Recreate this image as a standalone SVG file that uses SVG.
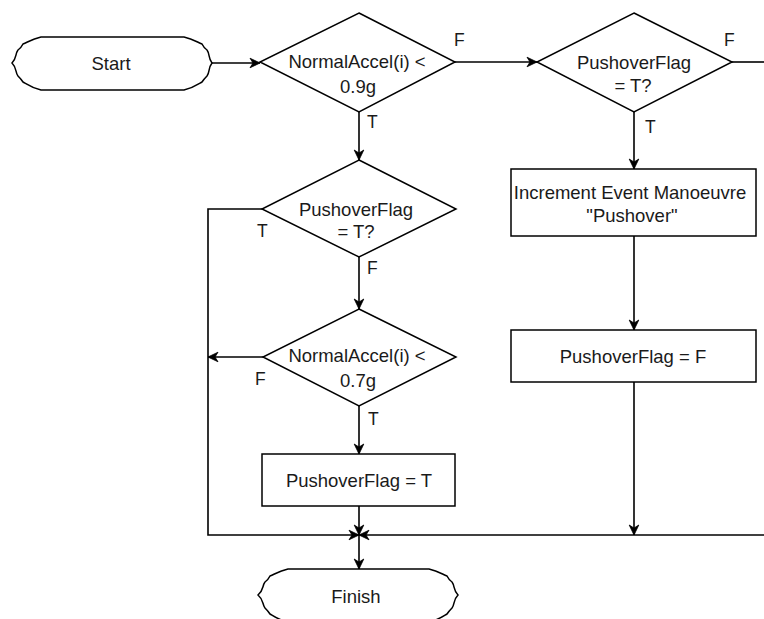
<svg xmlns="http://www.w3.org/2000/svg" width="764" height="619" viewBox="0 0 764 619">
<defs>
<marker id="arr" markerUnits="userSpaceOnUse" markerWidth="14" markerHeight="12" viewBox="-12 -6 14 12" refX="0" refY="0" orient="auto">
<path d="M0,0 L-10,-4.8 L-7,0 L-10,4.8 Z" fill="#000" stroke="#000" stroke-width="0.8" stroke-linejoin="miter"/>
</marker>
<style>
.s{fill:#fff;stroke:#000;stroke-width:1.5}
.c{fill:none;stroke:#000;stroke-width:1.6}
.t{font-family:"Liberation Sans",Arial,sans-serif;font-size:18.5px;fill:#1a1a1a;text-anchor:middle}
.l{font-family:"Liberation Sans",Arial,sans-serif;font-size:17.5px;fill:#1a1a1a}
</style>
</defs>
<rect width="764" height="619" fill="#fff"/>
<g id="connectors">
<path class="c" d="M212,63 H260" marker-end="url(#arr)"/>
<path class="c" d="M455,62 H537" marker-end="url(#arr)"/>
<path class="c" d="M732,62 H764"/>
<path class="c" d="M359,112 V160" marker-end="url(#arr)"/>
<path class="c" d="M634,112 V169" marker-end="url(#arr)"/>
<path class="c" d="M634,236 V330" marker-end="url(#arr)"/>
<path class="c" d="M634,382 V535" marker-end="url(#arr)"/>
<path class="c" d="M262,209 H208 V535 H359" marker-end="url(#arr)"/>
<path class="c" d="M764,535 H359" marker-end="url(#arr)"/>
<path class="c" d="M359,257 V309" marker-end="url(#arr)"/>
<path class="c" d="M263,357 H208" marker-end="url(#arr)"/>
<path class="c" d="M359,406 V454" marker-end="url(#arr)"/>
<path class="c" d="M359,506 V535" marker-end="url(#arr)"/>
<path class="c" d="M359,535 V569" marker-end="url(#arr)"/>
<text class="l" x="454" y="46">F</text>
<text class="l" x="367" y="128">T</text>
<text class="l" x="724" y="46">F</text>
<text class="l" x="645" y="133">T</text>
<text class="l" x="257" y="237">T</text>
<text class="l" x="367" y="274">F</text>
<text class="l" x="255" y="385">F</text>
<text class="l" x="368" y="425">T</text>
</g>
<g id="start">
<path class="s" d="M41,37 H184 C193,39 197,42 202,44 Q204,48 207,50 C210,54 208,58 212,63 C208,68 210,72 207,76 Q204,79 202,82 C197,85 193,88 184,90 H41 C32,88 28,85 23,82 Q21,79 18,76 C15,72 17,68 12,63 C17,58 15,54 18,50 Q21,48 23,44 C28,42 32,39 41,37 Z"/>
<text class="t" x="111" y="70">Start</text>
</g>
<g id="d1">
<path class="s" d="M359,13 L455,62 L359,112 L260,62 Z"/>
<text class="t" x="357" y="68">NormalAccel(i) &lt;</text>
<text class="t" x="358" y="93">0.9g</text>
</g>
<g id="d2">
<path class="s" d="M634,13 L732,62 L634,112 L537,62 Z"/>
<text class="t" x="634" y="69">PushoverFlag</text>
<text class="t" x="633" y="92">= T?</text>
</g>
<g id="b1">
<rect class="s" x="511" y="169" width="245" height="67"/>
<text class="t" x="630" y="199">Increment Event Manoeuvre</text>
<text class="t" x="632" y="222">"Pushover"</text>
</g>
<g id="b2">
<rect class="s" x="511" y="330" width="245" height="52"/>
<text class="t" x="633" y="363">PushoverFlag = F</text>
</g>
<g id="d3">
<path class="s" d="M359,160 L456,209 L359,257 L262,209 Z"/>
<text class="t" x="356" y="216">PushoverFlag</text>
<text class="t" x="356" y="238">= T?</text>
</g>
<g id="d4">
<path class="s" d="M359,309 L456,357 L359,406 L263,357 Z"/>
<text class="t" x="357" y="362">NormalAccel(i) &lt;</text>
<text class="t" x="358" y="387">0.7g</text>
</g>
<g id="b3">
<rect class="s" x="262" y="454" width="193" height="52"/>
<text class="t" x="359" y="487">PushoverFlag = T</text>
</g>
<g id="finish">
<path class="s" d="M288,569 H429 C438,571 442,574 447,576 Q449,580 452,582 C455,586 453,590 458,595 C453,600 455,604 452,608 Q449,611 447,614 C442,617 438,620 429,622 H288 C279,620 275,617 270,614 Q268,611 265,608 C262,604 264,600 258,595 C264,590 262,586 265,582 Q268,580 270,576 C275,574 279,571 288,569 Z"/>
<text class="t" x="356" y="603">Finish</text>
</g>
</svg>
